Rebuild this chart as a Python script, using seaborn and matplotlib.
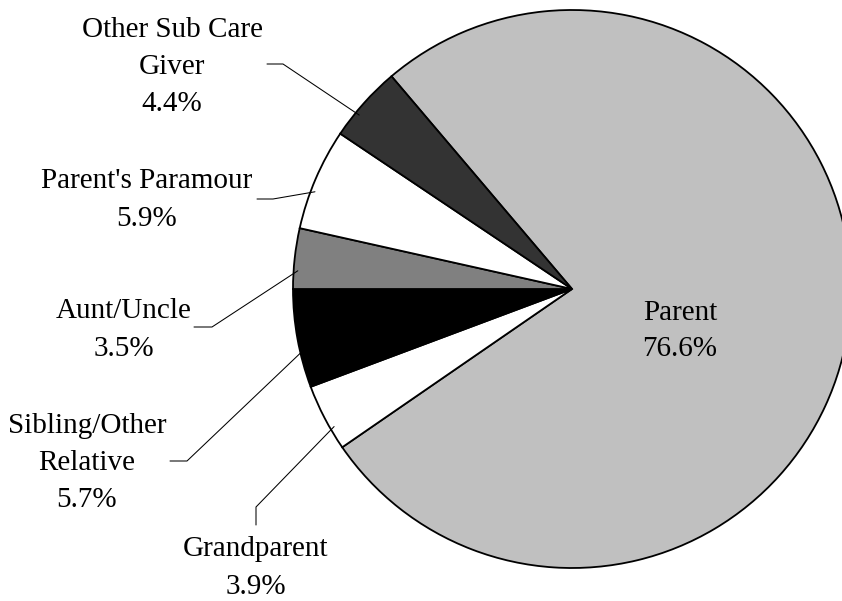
import matplotlib
matplotlib.use('Agg')
import matplotlib.pyplot as plt
import seaborn as sns
import numpy as np

# data
categories = ['Parent', 'Grandparent', 'Sibling/Other\nRelative', 'Aunt/Uncle',
              "Parent's Paramour", 'Other Sub Care\nGiver']
percents = [76.6, 3.9, 5.7, 3.5, 5.9, 4.4]
colors = ['#c0c0c0', '#ffffff', '#000000', '#808080', '#ffffff', '#333333']

# label centres and leader-line elbows, in pixels from the top-left corner
label_pos = [(680, 331), (256, 568), (87, 463), (124, 330), (147, 200), (172, 67)]
elbows = [None,
          [(256, 525), (256, 507)],
          [(170, 461), (187, 461)],
          [(194, 327), (212, 327)],
          [(257, 199), (273, 199)],
          [(267, 64), (283, 64)]]

sns.set_style('white')
plt.rcParams['font.family'] = ['Liberation Serif', 'DejaVu Serif']

W, H = 842, 601
fig = plt.figure(figsize=(W / 100, H / 100), dpi=100)
ax = fig.add_axes([0, 0, 1, 1])

cx, cy, R = 572, 289, 279
start = 180 - sum(percents[3:]) * 3.6

wedges, _ = ax.pie(percents, colors=colors, startangle=start, counterclock=False,
                   center=(cx, H - cy), radius=R,
                   wedgeprops=dict(edgecolor='black', linewidth=1.3))

for w, cat, p, (lx, ly), elb in zip(wedges, categories, percents, label_pos, elbows):
    ax.text(lx, H - ly, f'{cat}\n{p:.1f}%', ha='center', va='center',
            fontsize=21, linespacing=1.55, color='black')
    if elb is None:
        continue
    # leader line ends just inside the wedge edge
    mid = np.deg2rad((w.theta1 + w.theta2) / 2 + 2.5)
    end = (cx + 0.985 * R * np.cos(mid), H - cy + 0.985 * R * np.sin(mid))
    xs = [elb[0][0], elb[1][0], end[0]]
    ys = [H - elb[0][1], H - elb[1][1], end[1]]
    ax.plot(xs, ys, color='black', lw=0.75)

ax.set_xlim(0, W)
ax.set_ylim(0, H)
ax.set_aspect('equal')
ax.axis('off')

fig.savefig('out.png', dpi=100)
